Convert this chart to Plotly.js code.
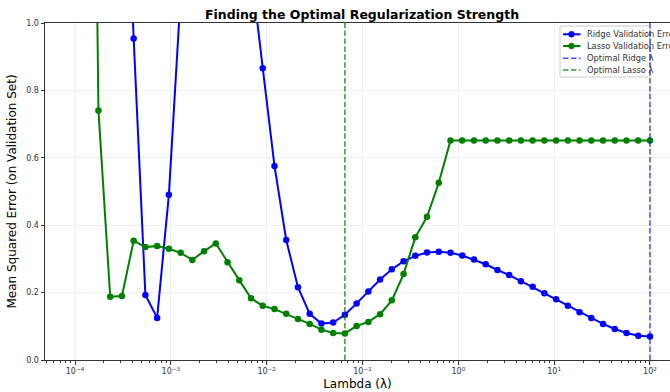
<!DOCTYPE html>
<html>
<head>
<meta charset="utf-8">
<script src="https://cdn.plot.ly/plotly-3.0.1.min.js"></script>
<style>
html,body{margin:0;padding:0;overflow:hidden;background:#fff;}
#chart{width:670px;height:392px;}
</style>
</head>
<body>
<div id="chart"></div>
<script>
// lambda grid: 50 log-spaced values from 1e-4 to 1e2
const logLambda = [];
for (let i = 0; i < 50; i++) logLambda.push(-4 + i * 6 / 49);
const lambdas = logLambda.map(v => Math.pow(10, v));

const ridgeError = [
  2.6, 2.4, 2.2, 2.0, 1.8, 0.954, 0.193, 0.125, 0.490, 1.08,
  1.5, 1.9, 2.1, 2.0, 1.6, 1.16, 0.866, 0.576, 0.356, 0.216,
  0.137, 0.108, 0.111, 0.134, 0.168, 0.203, 0.239, 0.269, 0.293, 0.309,
  0.319, 0.321, 0.318, 0.310, 0.298, 0.284, 0.267, 0.252, 0.234, 0.217,
  0.198, 0.180, 0.161, 0.142, 0.125, 0.107, 0.092, 0.080, 0.072, 0.070
];
const lassoError = [
  5.0, 3.6, 0.740, 0.188, 0.190, 0.354, 0.335, 0.338, 0.330, 0.318,
  0.297, 0.323, 0.346, 0.290, 0.237, 0.183, 0.161, 0.151, 0.137, 0.122,
  0.107, 0.090, 0.080, 0.079, 0.101, 0.113, 0.136, 0.177, 0.255, 0.364,
  0.425, 0.526, 0.651, 0.651, 0.651, 0.651, 0.651, 0.651, 0.651, 0.651,
  0.651, 0.651, 0.651, 0.651, 0.651, 0.651, 0.651, 0.651, 0.651, 0.651
];
const optimalRidgeLambda = lambdas[49];
const optimalLassoLambda = lambdas[23];

const seriesNames = ['Ridge Validation Error', 'Lasso Validation Error', 'Optimal Ridge λ', 'Optimal Lasso λ'];

const xTickVals = [1e-4, 1e-3, 1e-2, 1e-1, 1, 10, 100];
const xTickText = ['10<sup>−4</sup>', '10<sup>−3</sup>', '10<sup>−2</sup>', '10<sup>−1</sup>', '10<sup>0</sup>', '10<sup>1</sup>', '10<sup>2</sup>'];
const yTickVals = [0, 0.2, 0.4, 0.6, 0.8, 1.0];
const yTickText = ['0.0', '0.2', '0.4', '0.6', '0.8', '1.0'];

// minor tick positions (2..9 per decade)
const minorVals = [];
for (let d = -5; d <= 2; d++) for (let m = 2; m <= 9; m++) minorVals.push(m * Math.pow(10, d));

const BLUE = '#0000ff', GREEN = '#008000';
const RIDGE_OPT = 'rgba(0,0,255,0.7)', LASSO_OPT = 'rgba(0,128,0,0.8)';
const DASH = '5.5px,2.4px';

const traces = [
  {x: lambdas, y: ridgeError, type: 'scatter', mode: 'lines+markers', name: seriesNames[0],
   line: {color: BLUE, width: 2}, marker: {color: BLUE, size: 6.5}, showlegend: false},
  {x: lambdas, y: lassoError, type: 'scatter', mode: 'lines+markers', name: seriesNames[1],
   line: {color: GREEN, width: 2}, marker: {color: GREEN, size: 6.5}, showlegend: false},
  {x: [optimalRidgeLambda, optimalRidgeLambda], y: [0, 1], type: 'scatter', mode: 'lines', name: seriesNames[2],
   line: {color: RIDGE_OPT, width: 1.5, dash: DASH}, showlegend: false},
  {x: [optimalLassoLambda, optimalLassoLambda], y: [0, 1], type: 'scatter', mode: 'lines', name: seriesNames[3],
   line: {color: LASSO_OPT, width: 1.5, dash: DASH}, showlegend: false}
];

// custom legend (matplotlib-like compact legend) built in plot-pixel space
const W = 670, H = 392, ML = 45, MR = 0, MT = 23, MB = 32;
const PW = W - ML - MR, PH = H - MT - MB;
const px = x => (x - ML) / PW;
const py = y => (H - MB - y) / PH;

const legendRows = [34.3, 46, 58.3, 70];
const legendStyles = [
  {color: BLUE, dash: 'solid', marker: true},
  {color: GREEN, dash: 'solid', marker: true},
  {color: RIDGE_OPT, dash: DASH, marker: false},
  {color: LASSO_OPT, dash: DASH, marker: false}
];
const shapes = [
  {type: 'rect', xref: 'paper', yref: 'paper', x0: px(560), x1: px(650), y0: py(77), y1: py(26),
   fillcolor: 'rgba(255,255,255,0.8)', line: {color: '#cccccc', width: 1}, layer: 'below'}
];
const annotations = [];
legendRows.forEach((ry, k) => {
  const st = legendStyles[k];
  shapes.push({type: 'line', xref: 'paper', yref: 'paper', x0: px(563), x1: px(580.5), y0: py(ry), y1: py(ry),
    line: {color: st.color, width: st.marker ? 2 : 1.5, dash: st.dash}, layer: 'above'});
  if (st.marker) {
    shapes.push({type: 'circle', xref: 'paper', yref: 'paper', x0: px(568.5), x1: px(574.5), y0: py(ry + 3), y1: py(ry - 3),
      fillcolor: st.color, line: {color: st.color, width: 0.5}, layer: 'above'});
  }
  annotations.push({text: seriesNames[k], xref: 'paper', yref: 'paper', x: px(585), y: py(ry),
    xanchor: 'left', yanchor: 'middle', showarrow: false, font: {size: 8.3, color: '#333'}});
});

const layout = {
  width: W, height: H,
  margin: {l: ML, r: MR, t: MT, b: MB},
  paper_bgcolor: '#fff', plot_bgcolor: '#fff',
  font: {family: 'DejaVu Sans, sans-serif', color: '#222'},
  title: {text: '<b>Finding the Optimal Regularization Strength</b>', font: {size: 12.5, color: '#000'},
          x: (362 / W), xref: 'container', xanchor: 'center', y: 1 - 15 / H, yref: 'container', yanchor: 'middle'},
  showlegend: false,
  shapes: shapes,
  annotations: annotations,
  xaxis: {
    type: 'log', range: [-4.313, 2 + 20 / 95.8],
    tickvals: xTickVals, ticktext: xTickText, tickfont: {size: 8, color: '#333'},
    ticks: 'outside', ticklen: 3.5, tickcolor: '#333',
    showgrid: true, gridcolor: '#ebebeb', gridwidth: 0.8,
    showline: true, linecolor: '#333', linewidth: 1, mirror: true, zeroline: false,
    minor: {tickvals: minorVals, ticks: 'outside', ticklen: 2, tickcolor: '#333', showgrid: false},
    title: {text: 'Lambda (λ)', font: {size: 12, color: '#000'}, standoff: 4}
  },
  yaxis: {
    range: [0, 1], tickvals: yTickVals, ticktext: yTickText, tickfont: {size: 8, color: '#333'},
    ticks: 'outside', ticklen: 3.5, tickcolor: '#333',
    showgrid: true, gridcolor: '#ebebeb', gridwidth: 0.8,
    showline: true, linecolor: '#333', linewidth: 1, mirror: false, zeroline: false,
    title: {text: 'Mean Squared Error (on Validation Set)', font: {size: 12, color: '#000'}, standoff: 6}
  }
};

Plotly.newPlot('chart', traces, layout, {displayModeBar: false, staticPlot: true});
</script>
</body>
</html>
